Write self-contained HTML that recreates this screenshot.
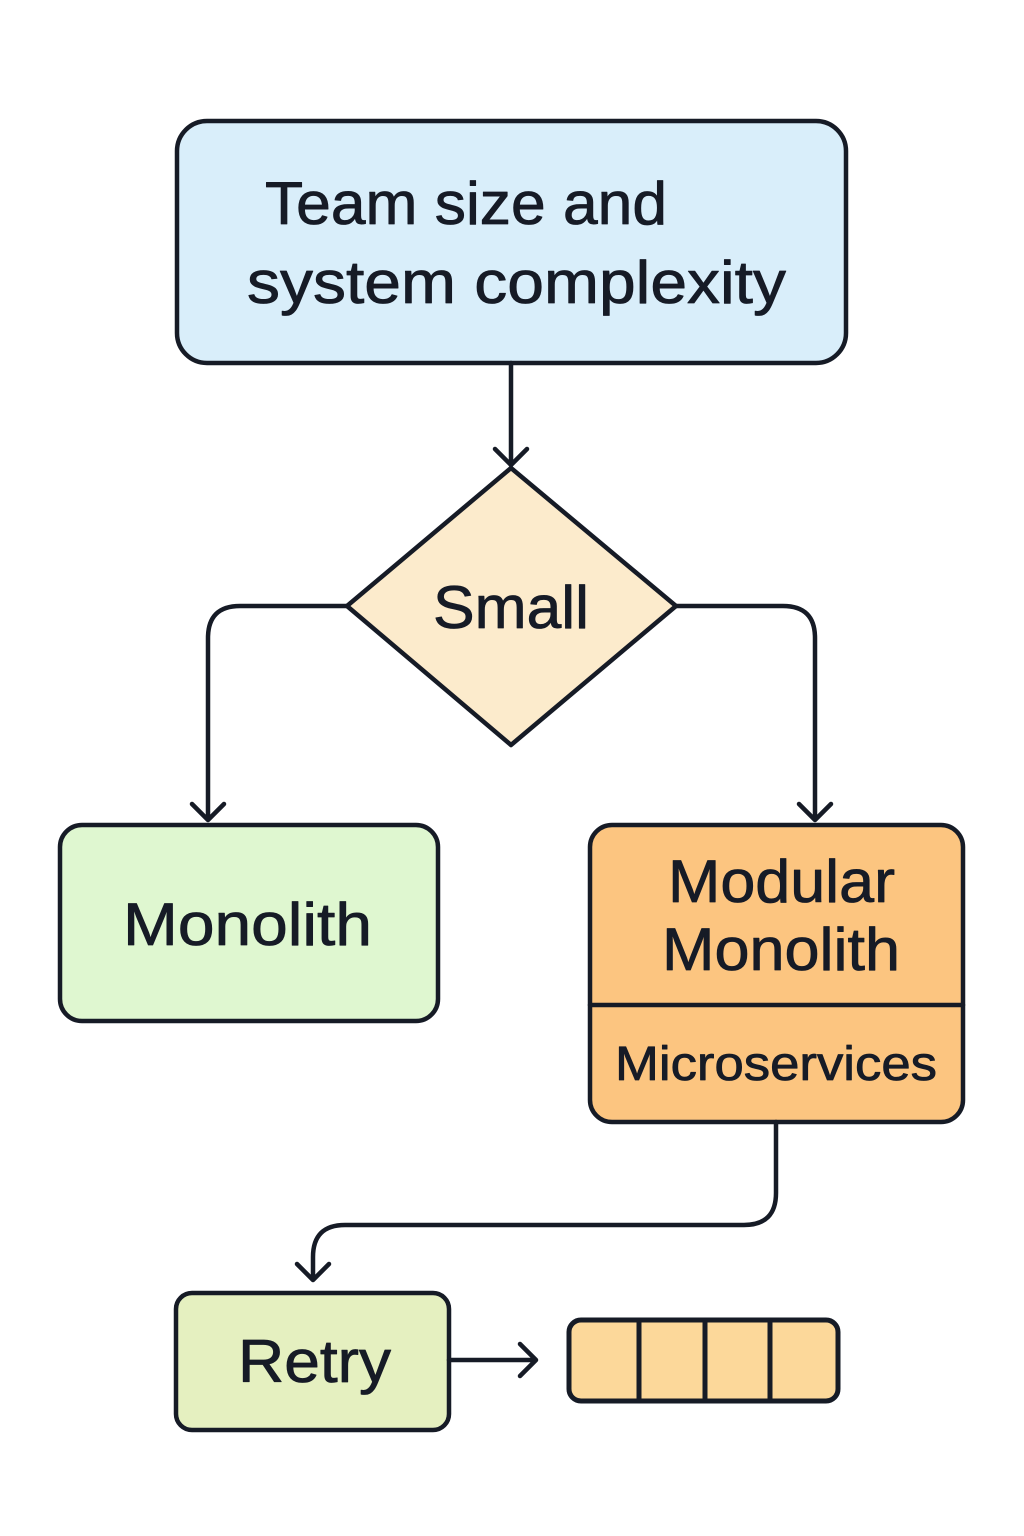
<!DOCTYPE html>
<html><head><meta charset="utf-8"><style>html,body{margin:0;padding:0;background:#fff}svg{display:block}</style></head>
<body>
<svg width="1024" height="1536" viewBox="0 0 1024 1536" xmlns="http://www.w3.org/2000/svg" font-family="Liberation Sans, sans-serif" fill="none" stroke="#161b26" stroke-width="4.5" stroke-linecap="round" stroke-linejoin="round">
<rect x="177" y="121" width="669" height="242" rx="30" fill="#d9eefa"/>
<g fill="#161b26" stroke="#161b26" stroke-width="0.8" font-size="60" lengthAdjust="spacingAndGlyphs">
<text x="265" y="224" textLength="402" lengthAdjust="spacingAndGlyphs">Team size and</text>
<text x="247" y="303" textLength="539" lengthAdjust="spacingAndGlyphs">system complexity</text>
<text x="433" y="628" textLength="156" lengthAdjust="spacingAndGlyphs">Small</text>
<text x="123" y="945" textLength="249" lengthAdjust="spacingAndGlyphs">Monolith</text>
<text x="668" y="902" textLength="227" lengthAdjust="spacingAndGlyphs">Modular</text>
<text x="662" y="970" textLength="238" lengthAdjust="spacingAndGlyphs">Monolith</text>
<text x="615" y="1080" font-size="48" textLength="322" lengthAdjust="spacingAndGlyphs">Microservices</text>
<text x="238" y="1382" textLength="153" lengthAdjust="spacingAndGlyphs">Retry</text>
</g>
<path d="M511 363 V465 M495 449 L511 465 L527 449"/>
<path d="M511 468 L676 606 L511 745 L347 606 Z" fill="#fcebcc"/>
<g fill="#161b26" stroke="#161b26" stroke-width="0.8" font-size="60">
<text x="433" y="628" textLength="156" lengthAdjust="spacingAndGlyphs">Small</text>
</g>
<path d="M347 606 H240 Q208 606 208 638 V820 M192 804 L208 820 L224 804"/>
<path d="M676 606 H783 Q815 606 815 638 V820 M799 804 L815 820 L831 804"/>
<rect x="60" y="825" width="378" height="196" rx="22" fill="#dff7d0"/>
<rect x="590" y="825" width="373" height="297" rx="22" fill="#fcc580"/>
<path d="M590 1005 H963"/>
<g fill="#161b26" stroke="#161b26" stroke-width="0.8" font-size="60">
<text x="123" y="945" textLength="249" lengthAdjust="spacingAndGlyphs">Monolith</text>
<text x="668" y="902" textLength="227" lengthAdjust="spacingAndGlyphs">Modular</text>
<text x="662" y="970" textLength="238" lengthAdjust="spacingAndGlyphs">Monolith</text>
<text x="615" y="1080" font-size="48" textLength="322" lengthAdjust="spacingAndGlyphs">Microservices</text>
</g>
<path d="M776 1122 V1193 Q776 1225 744 1225 H345 Q313 1225 313 1257 V1280 M297 1264 L313 1280 L329 1264"/>
<rect x="176" y="1293" width="273" height="137" rx="16" fill="#e5f0c0"/>
<g fill="#161b26" stroke="#161b26" stroke-width="0.8" font-size="60">
<text x="238" y="1382" textLength="153" lengthAdjust="spacingAndGlyphs">Retry</text>
</g>
<path d="M449 1360 H536 M520 1344 L536 1360 L520 1376"/>
<rect x="569" y="1320" width="269" height="81" rx="12" fill="#fcd89a" stroke-width="5"/>
<path d="M639 1320 V1401 M705 1320 V1401 M770 1320 V1401" stroke-width="5"/>
</svg>
</body></html>
